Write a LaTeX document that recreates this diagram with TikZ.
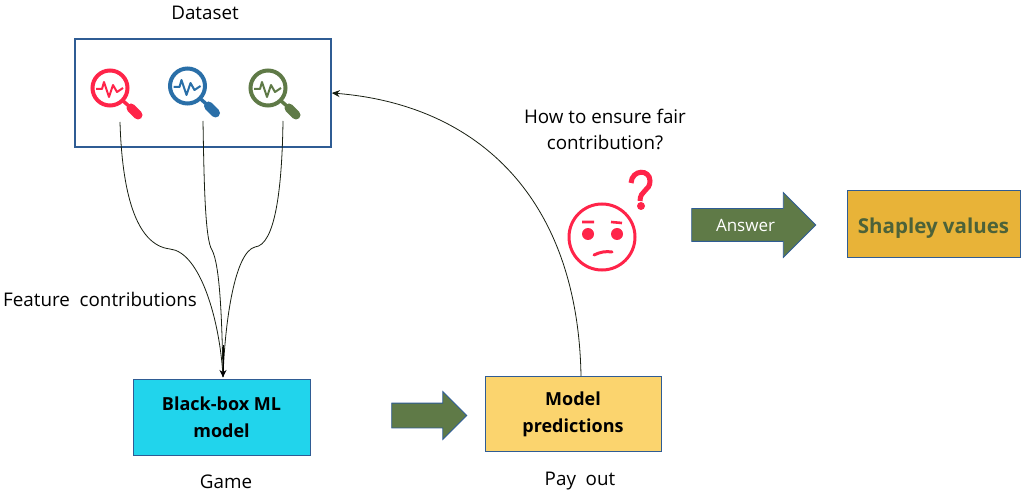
\documentclass[tikz,border=0pt]{standalone}
\usepackage{fontspec}
\setmainfont{Open Sans}
\usetikzlibrary{shapes.arrows,arrows.meta}
\definecolor{boxblue}{HTML}{2F5C94}
\definecolor{lensred}{HTML}{FF2449}
\definecolor{lensblue}{HTML}{2A6FA8}
\definecolor{olive}{HTML}{5F7A47}
\definecolor{boxcyan}{HTML}{21D4EC}
\definecolor{boxyellow}{HTML}{FBD46E}
\definecolor{boxgold}{HTML}{E8B338}
\tikzset{
  box/.style={draw=boxblue,line width=.9pt,align=center,inner sep=0pt,font=\fontsize{18}{27}\selectfont\bfseries},
  label/.style={font=\fontsize{18.8}{26}\selectfont,align=center,inner sep=0pt},
  bigarrow/.style={single arrow,draw=boxblue,fill=olive,line width=.8pt,inner sep=0pt,single arrow tip angle=90},
  wire/.style={line width=.8pt,black!75!olive},
  pics/lens/.style={code={
    \draw[#1,line width=4pt] (0,0) circle (17.5);
    \draw[#1,line width=2pt,line join=round] (-14,1) -- (-8,1) -- (-6,-6) -- (-1,9) -- (3,-3) -- (7,4) -- (13,0);
    \draw[#1,line width=3.5pt] (12,12) -- (20,19);
    \draw[#1,line width=9pt,line cap=round] (21,20) -- (28,27);
  }}
}
\begin{document}
\begin{tikzpicture}[x=1pt,y=-1pt]
\useasboundingbox (0,0) rectangle (1027,494);

\node[box,line width=1.6pt,minimum width=256pt,minimum height=108pt] (data) at (203,93) {};
\node[box,fill=boxcyan,minimum width=177pt,minimum height=76pt] (bbox) at (221.5,417) {Black-box ML\\model};
\node[box,fill=boxyellow,minimum width=176pt,minimum height=75pt] (pred) at (573,413.5) {\rule{0pt}{16pt}Model\\predictions};
\node[box,fill=boxgold,text=olive!80!black,minimum width=173pt,minimum height=67pt,font=\fontsize{20.5}{24}\selectfont\bfseries] (shap) at (933.5,223.5) {\rule{0pt}{24pt}Shapley values};

\pic at (110,88) {lens=lensred};
\pic at (187.5,86) {lens=lensblue};
\pic at (268,88) {lens=olive};

\node[label] (lset) at (205,13) {Dataset};
\node[label] (lask) at (605,129) {How to ensure fair\\contribution?};
\node[label,anchor=west] (lfeat) at (3,299) {Feature\ \ contributions};
\node[label] (lgame) at (226,482) {Game};
\node[label] (lpay) at (580,481) {Pay\ \ out};

% sad face
\coordinate (face) at (602,237);
\draw[lensred,line width=3pt] (face) circle (33);
\fill[lensred] (588,234) circle (6) (617,234) circle (6);
\draw[lensred,line width=2.6pt] (582,222) -- (594,222) (611,222) -- (622,223);
\draw[lensred,line width=3pt,line cap=round] (594,255) .. controls (600,252) and (606,251) .. (612,252);
\draw[lensred,line width=5pt] (631,183) .. controls (632,169) and (650,169) .. (650,181) .. controls (650,191) and (640,190) .. (640,201);
\fill[lensred] (641,206) circle (4);

\node[bigarrow,minimum height=124pt,single arrow head extend=16pt,text=white,font=\fontsize{17}{18}\selectfont] (answer) at (745.5,225) {\rule[-16pt]{0pt}{32pt}\raisebox{-.75ex}{Answer}};
\node[bigarrow,minimum height=75pt,single arrow head extend=11.5pt] (next) at (423,415.5) {\rule[-12pt]{0pt}{24pt}};

\coordinate (in1) at (120,122);
\coordinate (in2) at (203,121);
\coordinate (in3) at (283,121);
\coordinate (tip) at (223,377);
\draw[wire] (in1) .. controls (122,190) and (135,245) .. (170,249) .. controls (200,252) and (220,320) .. (tip);
\draw[wire] (in2) .. controls (204,180) and (205,240) .. (212,250) .. controls (220,265) and (222,320) .. (tip);
\draw[wire] (in3) .. controls (282,190) and (275,245) .. (255,247) .. controls (235,252) and (225,320) .. (tip);
\draw[wire,black,-{Stealth[length=7pt,width=7pt]}] (223,345) -- (tip);

\coordinate (out) at (581,376);
\draw[wire,-{Stealth[length=8pt,width=7pt]}] (out) .. controls (578,200) and (480,105) .. (data.east);

\end{tikzpicture}
\end{document}
